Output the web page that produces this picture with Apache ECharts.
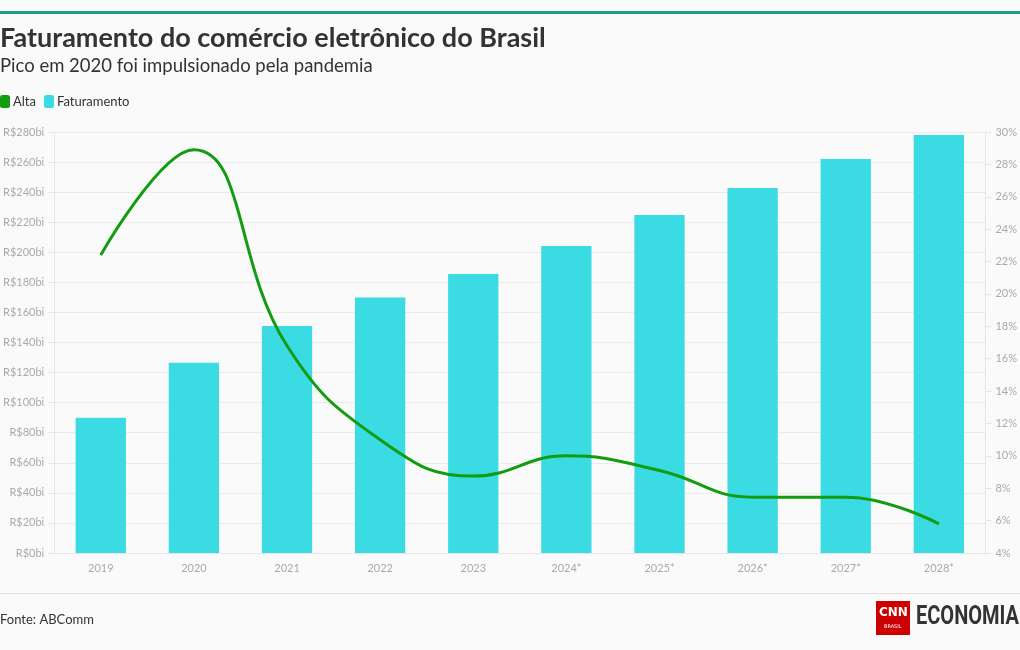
<!DOCTYPE html>
<html><head><meta charset="utf-8">
<script src="https://cdn.jsdelivr.net/npm/echarts@6/dist/echarts.min.js"></script>
<style>html,body{margin:0;padding:0;background:#fafafa;}#c{width:1020px;height:650px;}</style>
</head><body><div id="c"></div>
<script>
const categories = ['2019','2020','2021','2022','2023','2024*','2025*','2026*','2027*','2028*'];
const faturamento = [90, 126.5, 151, 170, 185.6, 204.2, 224.8, 242.8, 262, 278];
const alta = [22.4, 28.9, 16.8, 11.0, 8.75, 10.0, 9.1, 7.45, 7.45, 5.8];
const leftTicks = 'R$%sbi';
const FONT = 'Lato, "Noto Sans", sans-serif';
const chart = echarts.init(document.getElementById('c'));
chart.setOption({
  backgroundColor: '#fafafa',
  animation: false,
  textStyle: {fontFamily: FONT},
  title: [
    {text: 'Faturamento do comércio eletrônico do Brasil', left: 0, top: 25, padding: 0,
     textStyle: {fontSize: 27, fontWeight: 'bold', color: '#333', fontFamily: FONT}},
    {text: 'Pico em 2020 foi impulsionado pela pandemia', left: 0, top: 57, padding: 0,
     textStyle: {fontSize: 18.5, fontWeight: 'normal', color: '#333', fontFamily: FONT}}
  ],
  legend: {
    left: 0, top: 95, padding: 0, itemWidth: 10, itemHeight: 13, itemGap: 8,
    icon: 'roundRect',
    textStyle: {fontSize: 13, color: '#333', padding: [0,0,0,-2]},
    data: [{name: 'Alta'}, {name: 'Faturamento'}]
  },
  grid: {left: 52, right: 33, top: 132, bottom: 97},
  xAxis: {
    type: 'category', data: categories,
    axisLine: {lineStyle: {color: '#e6e6e6'}},
    axisTick: {alignWithLabel: true, lineStyle: {color: '#e6e6e6'}},
    axisLabel: {color: '#aaa', fontSize: 11, margin: 10}
  },
  yAxis: [
    {type: 'value', min: 0, max: 280, interval: 20,
     axisLine: {show: true, lineStyle: {color: '#e6e6e6'}},
     axisTick: {show: true, length: 6, lineStyle: {color: '#e6e6e6'}},
     splitLine: {lineStyle: {color: '#ebebeb'}},
     axisLabel: {color: '#aaa', fontSize: 11, margin: 10, formatter: v => leftTicks.replace('%s', v)}},
    {type: 'value', min: 4, max: 30, interval: 2,
     axisLine: {show: true, lineStyle: {color: '#e6e6e6'}},
     axisTick: {show: true, length: 6, lineStyle: {color: '#e6e6e6'}},
     splitLine: {show: false},
     axisLabel: {color: '#aaa', fontSize: 11, margin: 10, formatter: '{value}%'}}
  ],
  series: [
    {name: 'Faturamento', type: 'bar', data: faturamento, barWidth: '54%',
     itemStyle: {color: '#3bdbe3'}, yAxisIndex: 0, z: 2},
    {name: 'Alta', type: 'line', data: alta, yAxisIndex: 1, smooth: 0.45,
     symbol: 'none', lineStyle: {color: '#129c12', width: 3}, itemStyle: {color: '#129c12'}, z: 3}
  ],
  graphic: [
    {type: 'rect', shape: {x: 0, y: 11, width: 1020, height: 3}, style: {fill: '#1e9e80'}},
    {type: 'rect', shape: {x: 0, y: 593, width: 1020, height: 1}, style: {fill: '#dddddd'}},
    {type: 'text', left: 0, top: 613, style: {text: 'Fonte: ABComm', fontSize: 13, fill: '#333', fontFamily: FONT}},
    {type: 'rect', shape: {x: 876, y: 601, width: 34, height: 34}, style: {fill: '#cc0000'}},
    {type: 'text', left: 879, top: 607, style: {text: 'CNN', fontSize: 12, fontWeight: 'bold', fill: '#fff', fontFamily: '"DejaVu Sans"'}},
    {type: 'text', left: 884, top: 624, style: {text: 'BRASIL', fontSize: 5, fill: '#fff', fontFamily: '"DejaVu Sans"'}},
    {type: 'text', x: 916, y: 605, scaleX: 0.8, style: {text: 'ECONOMIA', fontSize: 25, fontWeight: 'bold', fill: '#333', fontFamily: 'Roboto'}}
  ]
});
</script></body></html>
